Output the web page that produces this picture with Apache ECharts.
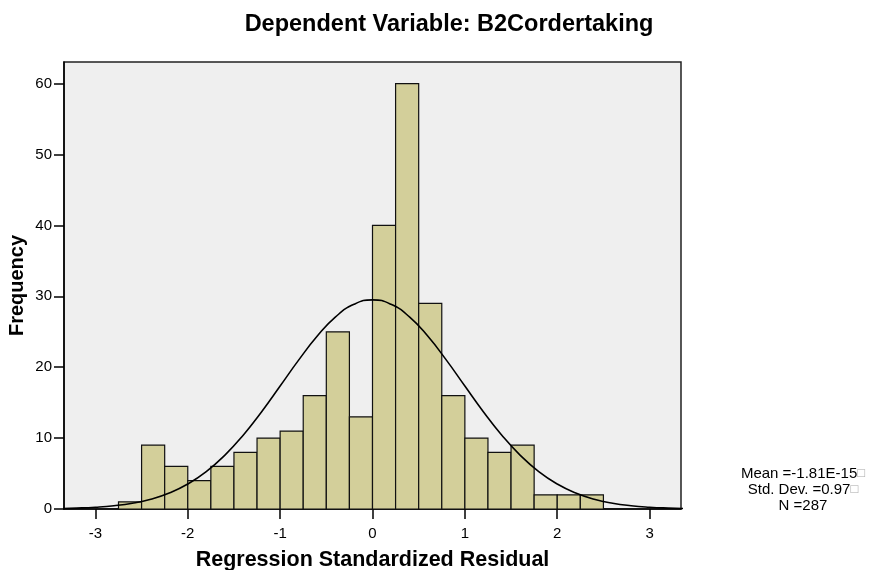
<!DOCTYPE html>
<html>
<head>
<meta charset="utf-8">
<script src="https://cdn.jsdelivr.net/npm/echarts@6/dist/echarts.min.js"></script>
<style>html,body{margin:0;padding:0;background:#fff}#c{width:872px;height:570px}</style>
</head>
<body>
<div id="c"></div>
<script>
// Histogram bins (lower edge) and frequencies
var binStarts = [-2.75,-2.5,-2.25,-2.0,-1.75,-1.5,-1.25,-1.0,-0.75,-0.5,-0.25,0.0,0.25,0.5,0.75,1.0,1.25,1.5,1.75,2.0,2.25];
var binWidth = 0.25;
var counts = [1,9,6,4,6,8,10,11,16,25,13,40,60,29,16,10,8,9,2,2,2];
// Normal curve points
var curveX = [-3.6,-3.4,-3.2,-3.0,-2.8,-2.6,-2.4,-2.2,-2.0,-1.8,-1.6,-1.4,-1.2,-1.0,-0.8,-0.6,-0.4,-0.2,0.0,0.2,0.4,0.6,0.8,1.0,1.2,1.4,1.6,1.8,2.0,2.2,2.4,2.6,2.8,3.0,3.2,3.4,3.6];
var curveY = [0.03,0.06,0.13,0.25,0.46,0.81,1.38,2.25,3.52,5.27,7.57,10.41,13.72,17.34,21.00,24.36,27.10,28.88,29.5,28.88,27.10,24.36,21.00,17.34,13.72,10.41,7.57,5.27,3.52,2.25,1.38,0.81,0.46,0.25,0.13,0.06,0.03];
var xTicks = [-3,-2,-1,0,1,2,3];
var yTicks = [0,10,20,30,40,50,60];
var titleText = 'Dependent Variable: B2Cordertaking';
var xName = 'Regression Standardized Residual';
var yName = 'Frequency';
var statLines = ['Mean =-1.81E-15', 'Std. Dev. =0.97', 'N =287'];
var statBoxes = [true, true, false];

var barData = binStarts.map(function(s, i){ return [s, s + binWidth, counts[i]]; });
var lineData = curveX.map(function(x, i){ return [x, curveY[i]]; });

var FONT = 'Liberation Sans, Arial, sans-serif';
var chart = echarts.init(document.getElementById('c'), null, {renderer:'canvas'});
chart.setOption({
  animation: false,
  backgroundColor: '#ffffff',
  title: {
    text: titleText, left: 444, top: 8, textAlign: 'center',
    textStyle: {fontFamily: FONT, fontSize: 23.5, fontWeight: 'bold', color: '#000'}
  },
  grid: {
    left: 64, top: 62, right: 191, bottom: 61, show: true, containLabel: false,
    outerBoundsMode: 'none',
    backgroundColor: '#efefef', borderColor: '#222', borderWidth: 1.5
  },
  xAxis: {
    type: 'value', min: -3.34, max: 3.34,
    name: xName, nameLocation: 'middle', nameGap: 40, nameMoveOverlap: false,
    nameTextStyle: {fontFamily: FONT, fontSize: 21.5, fontWeight: 'bold', color: '#000'},
    axisLine: {show: true, lineStyle: {color: '#000', width: 1.5}},
    axisTick: {show: true, length: 10, inside: false, customValues: xTicks, lineStyle: {color: '#000', width: 1.5}},
    axisLabel: {customValues: xTicks, fontFamily: FONT, fontSize: 15, color: '#000', margin: 17},
    splitLine: {show: false}
  },
  yAxis: {
    type: 'value', min: 0, max: 63.06,
    name: yName, nameLocation: 'middle', nameGap: 37, nameRotate: 90, nameMoveOverlap: false,
    nameTextStyle: {fontFamily: FONT, fontSize: 20, fontWeight: 'bold', color: '#000'},
    axisLine: {show: true, onZero: false, lineStyle: {color: '#000', width: 1.5}},
    axisTick: {show: true, length: 10, customValues: yTicks, lineStyle: {color: '#000', width: 1.5}},
    axisLabel: {customValues: yTicks, fontFamily: FONT, fontSize: 15, color: '#000', margin: 12},
    splitLine: {show: false}
  },
  graphic: statLines.map(function(t, i){
    return {
      type: 'text', x: 803, y: 466 + i * 16.3,
      style: {
        text: statBoxes[i] ? '{t|' + t + '}{b|\u25A1}' : '{t|' + t + '}',
        align: 'center',
        rich: {
          t: {fontFamily: FONT, fontSize: 15, fill: '#000'},
          b: {fontFamily: FONT, fontSize: 13, fill: '#aaa'}
        },
        font: '15px ' + FONT
      }
    };
  }),
  series: [
    {
      type: 'custom',
      data: barData,
      encode: {x: [0, 1], y: 2},
      renderItem: function(params, api){
        var p0 = api.coord([api.value(0), api.value(2)]);
        var p1 = api.coord([api.value(1), 0]);
        return {
          type: 'rect',
          shape: {x: p0[0], y: p0[1], width: p1[0] - p0[0], height: p1[1] - p0[1]},
          style: {fill: '#d3cf9a', stroke: '#111', lineWidth: 1.2}
        };
      },
      z: 2
    },
    {
      type: 'line', data: lineData, smooth: true, showSymbol: false, symbol: 'none',
      lineStyle: {color: '#000', width: 1.6}, clip: true, z: 3
    }
  ]
});
</script>
</body>
</html>
